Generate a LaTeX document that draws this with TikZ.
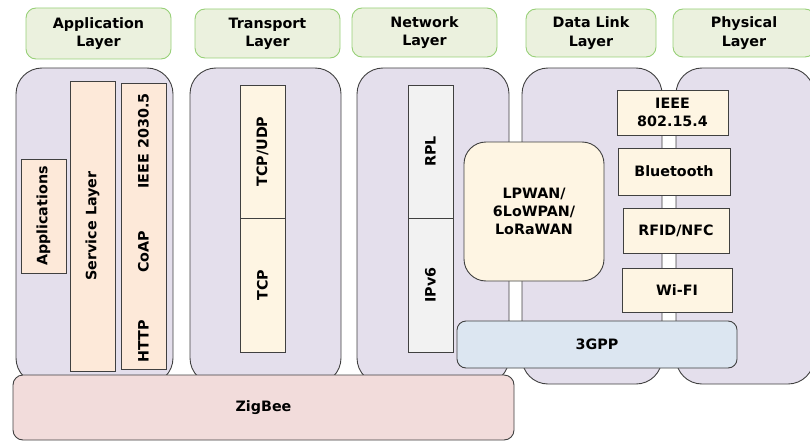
\documentclass[tikz,border=0pt]{standalone}
\usepackage{fontspec}
\setmainfont{DejaVu Sans}
\definecolor{purp}{HTML}{E4DFEC}
\definecolor{orng}{HTML}{FDE9D9}
\definecolor{hdrfill}{HTML}{EBF1DE}
\definecolor{hdrline}{HTML}{97D077}
\definecolor{zig}{HTML}{F2DCDB}
\definecolor{gpp}{HTML}{DCE6F1}
\definecolor{yel}{HTML}{FEF5E3}
\definecolor{gry}{HTML}{F2F2F2}
\definecolor{edge}{HTML}{404040}
\newcommand\mylbl{\bfseries\fontsize{14.3}{18.3}\selectfont}
\tikzset{
  base/.style={inner sep=0pt, align=center, font=\mylbl, line width=0.9pt},
  hdr/.style={base, draw=hdrline, fill=hdrfill, rounded corners=10pt},
  layerbox/.style={base, draw=edge, fill=purp, rounded corners=26pt},
  appbox/.style={base, draw=edge, fill=orng},
  yelbox/.style={base, draw=edge, fill=yel},
  grybox/.style={base, draw=edge, fill=gry},
  zigbox/.style={base, draw=edge, fill=zig, rounded corners=10pt},
  gppbox/.style={base, draw=edge, fill=gpp, rounded corners=9pt},
  lpbox/.style={base, draw=edge, fill=yel, rounded corners=22pt},
  txt/.style={inner sep=0pt, font=\mylbl}
}
\begin{document}
\begin{tikzpicture}[x=1pt,y=-1pt]
\useasboundingbox (0,0) rectangle (810,441);
% headers
\node[hdr, minimum width=145, minimum height=51] (happ) at (98.5,33.5) {Application\\Layer};
\node[hdr, minimum width=145, minimum height=49] (htr) at (267.5,33.5) {Transport\\Layer};
\node[hdr, minimum width=145, minimum height=49] (hnet) at (424.5,32.5) {Network\\Layer};
\node[hdr, minimum width=130, minimum height=48] (hdl) at (591,33) {Data Link\\Layer};
\node[hdr, minimum width=142, minimum height=48] (hph) at (744,33) {Physical\\Layer};
% layer boxes
\node[layerbox, minimum width=157, minimum height=316] (lapp) at (94.5,226) {};
\node[layerbox, minimum width=151, minimum height=316] (ltr) at (265.5,226) {};
\node[layerbox, minimum width=152, minimum height=316] (lnet) at (433,226) {};
\node[layerbox, minimum width=140, minimum height=316] (ldl) at (592,226) {};
\node[layerbox, minimum width=138, minimum height=316] (lph) at (745,226) {};
% application layer
\node[appbox, rotate=90, minimum width=114, minimum height=45] (apps) at (43.5,216) {Applications};
\node[appbox, rotate=90, minimum width=290, minimum height=45] (serv) at (92.5,226) {Service Layer};
\node[appbox, rotate=90, minimum width=286, minimum height=45] (proto) at (143.5,226) {};
\node[txt, rotate=90] (ieee20305) at (143.5,141) {IEEE 2030.5};
\node[txt, rotate=90] (coap) at (143.5,252) {CoAP};
\node[txt, rotate=90] (http) at (143.5,341) {HTTP};
% transport layer
\node[yelbox, rotate=90, minimum width=133, minimum height=45] (tcpudp) at (262.5,151.5) {TCP/UDP};
\node[yelbox, rotate=90, minimum width=134, minimum height=45] (tcp) at (262.5,285) {TCP};
% network layer
\node[grybox, rotate=90, minimum width=133, minimum height=45] (rpl) at (430.5,151.5) {RPL};
\node[grybox, rotate=90, minimum width=134, minimum height=45] (ipv6) at (430.5,285) {IPv6};
% data link / physical
\node[yelbox, minimum width=111, minimum height=45] (ieee) at (672.5,112.5) {IEEE\\802.15.4};
\node[yelbox, minimum width=112, minimum height=47] (bt) at (674,171.5) {Bluetooth};
\node[yelbox, minimum width=106, minimum height=45] (rfid) at (676,230.5) {RFID/NFC};
\node[yelbox, minimum width=110, minimum height=44] (wifi) at (677,290) {Wi-FI};
\node[lpbox, minimum width=140, minimum height=139] (lpwan) at (534,211.5) {LPWAN/\\6LoWPAN/\\LoRaWAN};
\node[gppbox, minimum width=280, minimum height=47] (gpp) at (597,344.5) {3GPP};
\node[zigbox, minimum width=501, minimum height=65] (zigbee) at (263.5,407.5) {ZigBee};
\end{tikzpicture}
\end{document}
